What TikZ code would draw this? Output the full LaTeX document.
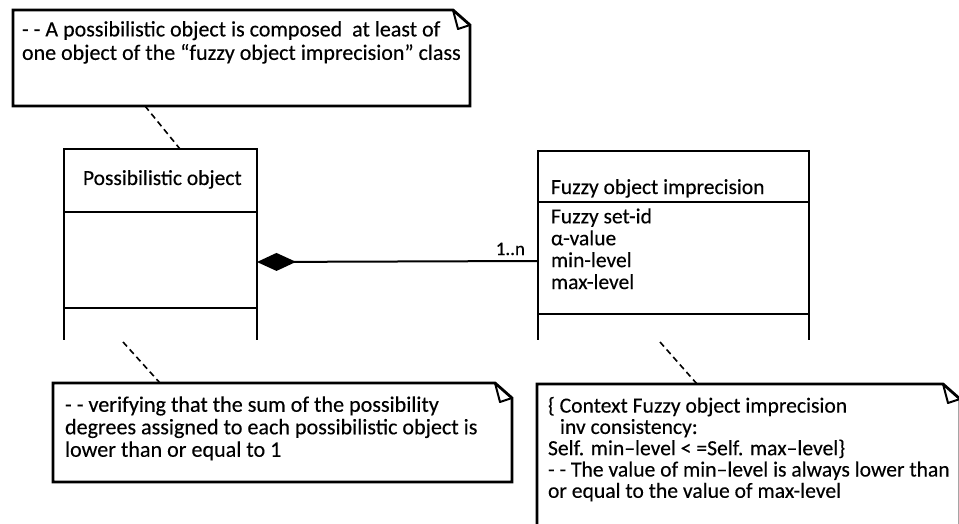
\documentclass[tikz,border=0pt]{standalone}
\usepackage{fontspec}
\setmainfont{Carlito}[FakeBold=0.3]
\usetikzlibrary{arrows.meta}
\tikzset{
  notebox/.style={inner sep=0pt, outer sep=0pt, minimum width=#1},
  noteline/.style={line width=2.8pt, line join=miter},
  foldline/.style={line width=2pt, line join=round},
  compartment/.style={draw, line width=1.6pt, inner sep=0pt, outer sep=0pt, anchor=north west},
  classline/.style={line width=1.6pt},
  anchorline/.style={line width=1.6pt, dash pattern=on 6pt off 4pt},
  label/.style={inner sep=0pt, outer sep=0pt, align=left},
  classfont/.style={font=\fontsize{21.5}{21.9}\selectfont},
}
\begin{document}
\begin{tikzpicture}[x=1pt, y=-1pt]
  \useasboundingbox (0,0) rectangle (959,524);
  \clip (0,0) rectangle (959,524);

  % ---- notes (placed by their top-left corner) ----
  \node[notebox=457pt, minimum height=96pt, anchor=north west] (topnote) at (13,10) {};
  \node[notebox=459pt, minimum height=99pt, anchor=north west] (leftnote) at (53,383) {};
  \node[notebox=423pt, minimum height=160pt, anchor=north west] (rightnote) at (537,384) {};

  \foreach \n in {topnote,leftnote,rightnote}{
    \draw[noteline] (\n.south west) -- (\n.north west)
      -- ([xshift=-17pt]\n.north east) -- ([yshift=-15pt]\n.north east)
      -- (\n.south east) -- cycle;
    \draw[foldline] ([xshift=-17pt]\n.north east)
      -- ([xshift=-12pt,yshift=-19pt]\n.north east)
      -- ([yshift=-15pt]\n.north east);
  }

  \node[label, font=\fontsize{22}{22}\selectfont, anchor=north west] (topnotetext) at (22,21)
    {\strut- - A possibilistic object is composed \ at least of\\
     one object of the “fuzzy object imprecision” class};
  \node[label, font=\fontsize{22.1}{22.5}\selectfont, anchor=north west] (leftnotetext) at (65,396)
    {\strut- - verifying that the sum of the possibility\\
     degrees assigned to each possibilistic object is\\
     lower than or equal to 1};
  \node[label, font=\fontsize{21.6}{21.3}\selectfont, anchor=north west] (rightnotetext) at (548,397)
    {\strut\{ Context Fuzzy object imprecision\\
     \hspace*{12pt}inv consistency:\\
     Self. min–level < =Self. max–level\}\\
     - - The value of min–level is always lower than\\
     or equal to the value of max-level};

  % ---- class "Possibilistic object" ----
  \node[compartment, minimum width=193pt, minimum height=63pt] (posshead) at (64,149) {};
  \node[compartment, minimum width=193pt, minimum height=96pt] (possattr) at (64,212) {};
  \draw[classline] (possattr.south west) -- ++(0,32);
  \draw[classline] (possattr.south east) -- ++(0,32);
  \node[label, classfont, anchor=base west] (possname) at (83,185) {Possibilistic object};

  % ---- class "Fuzzy object imprecision" ----
  \node[compartment, minimum width=271pt, minimum height=51pt] (fuzzhead) at (538,151) {};
  \node[compartment, minimum width=271pt, minimum height=112pt] (fuzzattr) at (538,202) {};
  \draw[classline] (fuzzattr.south west) -- ++(0,26);
  \draw[classline] (fuzzattr.south east) -- ++(0,26);
  \node[label, classfont, anchor=base west] (fuzzname) at (551,194) {Fuzzy object imprecision};
  \node[label, classfont, anchor=north west] (fuzzattrs) at (551,208)
    {\strut Fuzzy set-id\\ α-value\\ min-level\\ max-level};

  % ---- composition ----
  \draw[line width=2pt, {Diamond[length=39pt, width=18pt]}-]
    ([yshift=-2pt]possattr.east) -- ([yshift=-3pt]fuzzattr.west)
    node[pos=1, label, font=\fontsize{19}{19}\selectfont, anchor=base east, xshift=-13pt, yshift=6pt] (mult) {1..n};

  % ---- note anchors ----
  \coordinate (possfoot) at (123,342);
  \coordinate (fuzzfoot) at (660,342);
  \draw[anchorline] ([xshift=132pt]topnote.south west) -- ([xshift=116pt]posshead.north west);
  \draw[anchorline] (possfoot) -- ([xshift=107pt]leftnote.north west);
  \draw[anchorline] (fuzzfoot) -- ([xshift=160pt]rightnote.north west);
\end{tikzpicture}
\end{document}
